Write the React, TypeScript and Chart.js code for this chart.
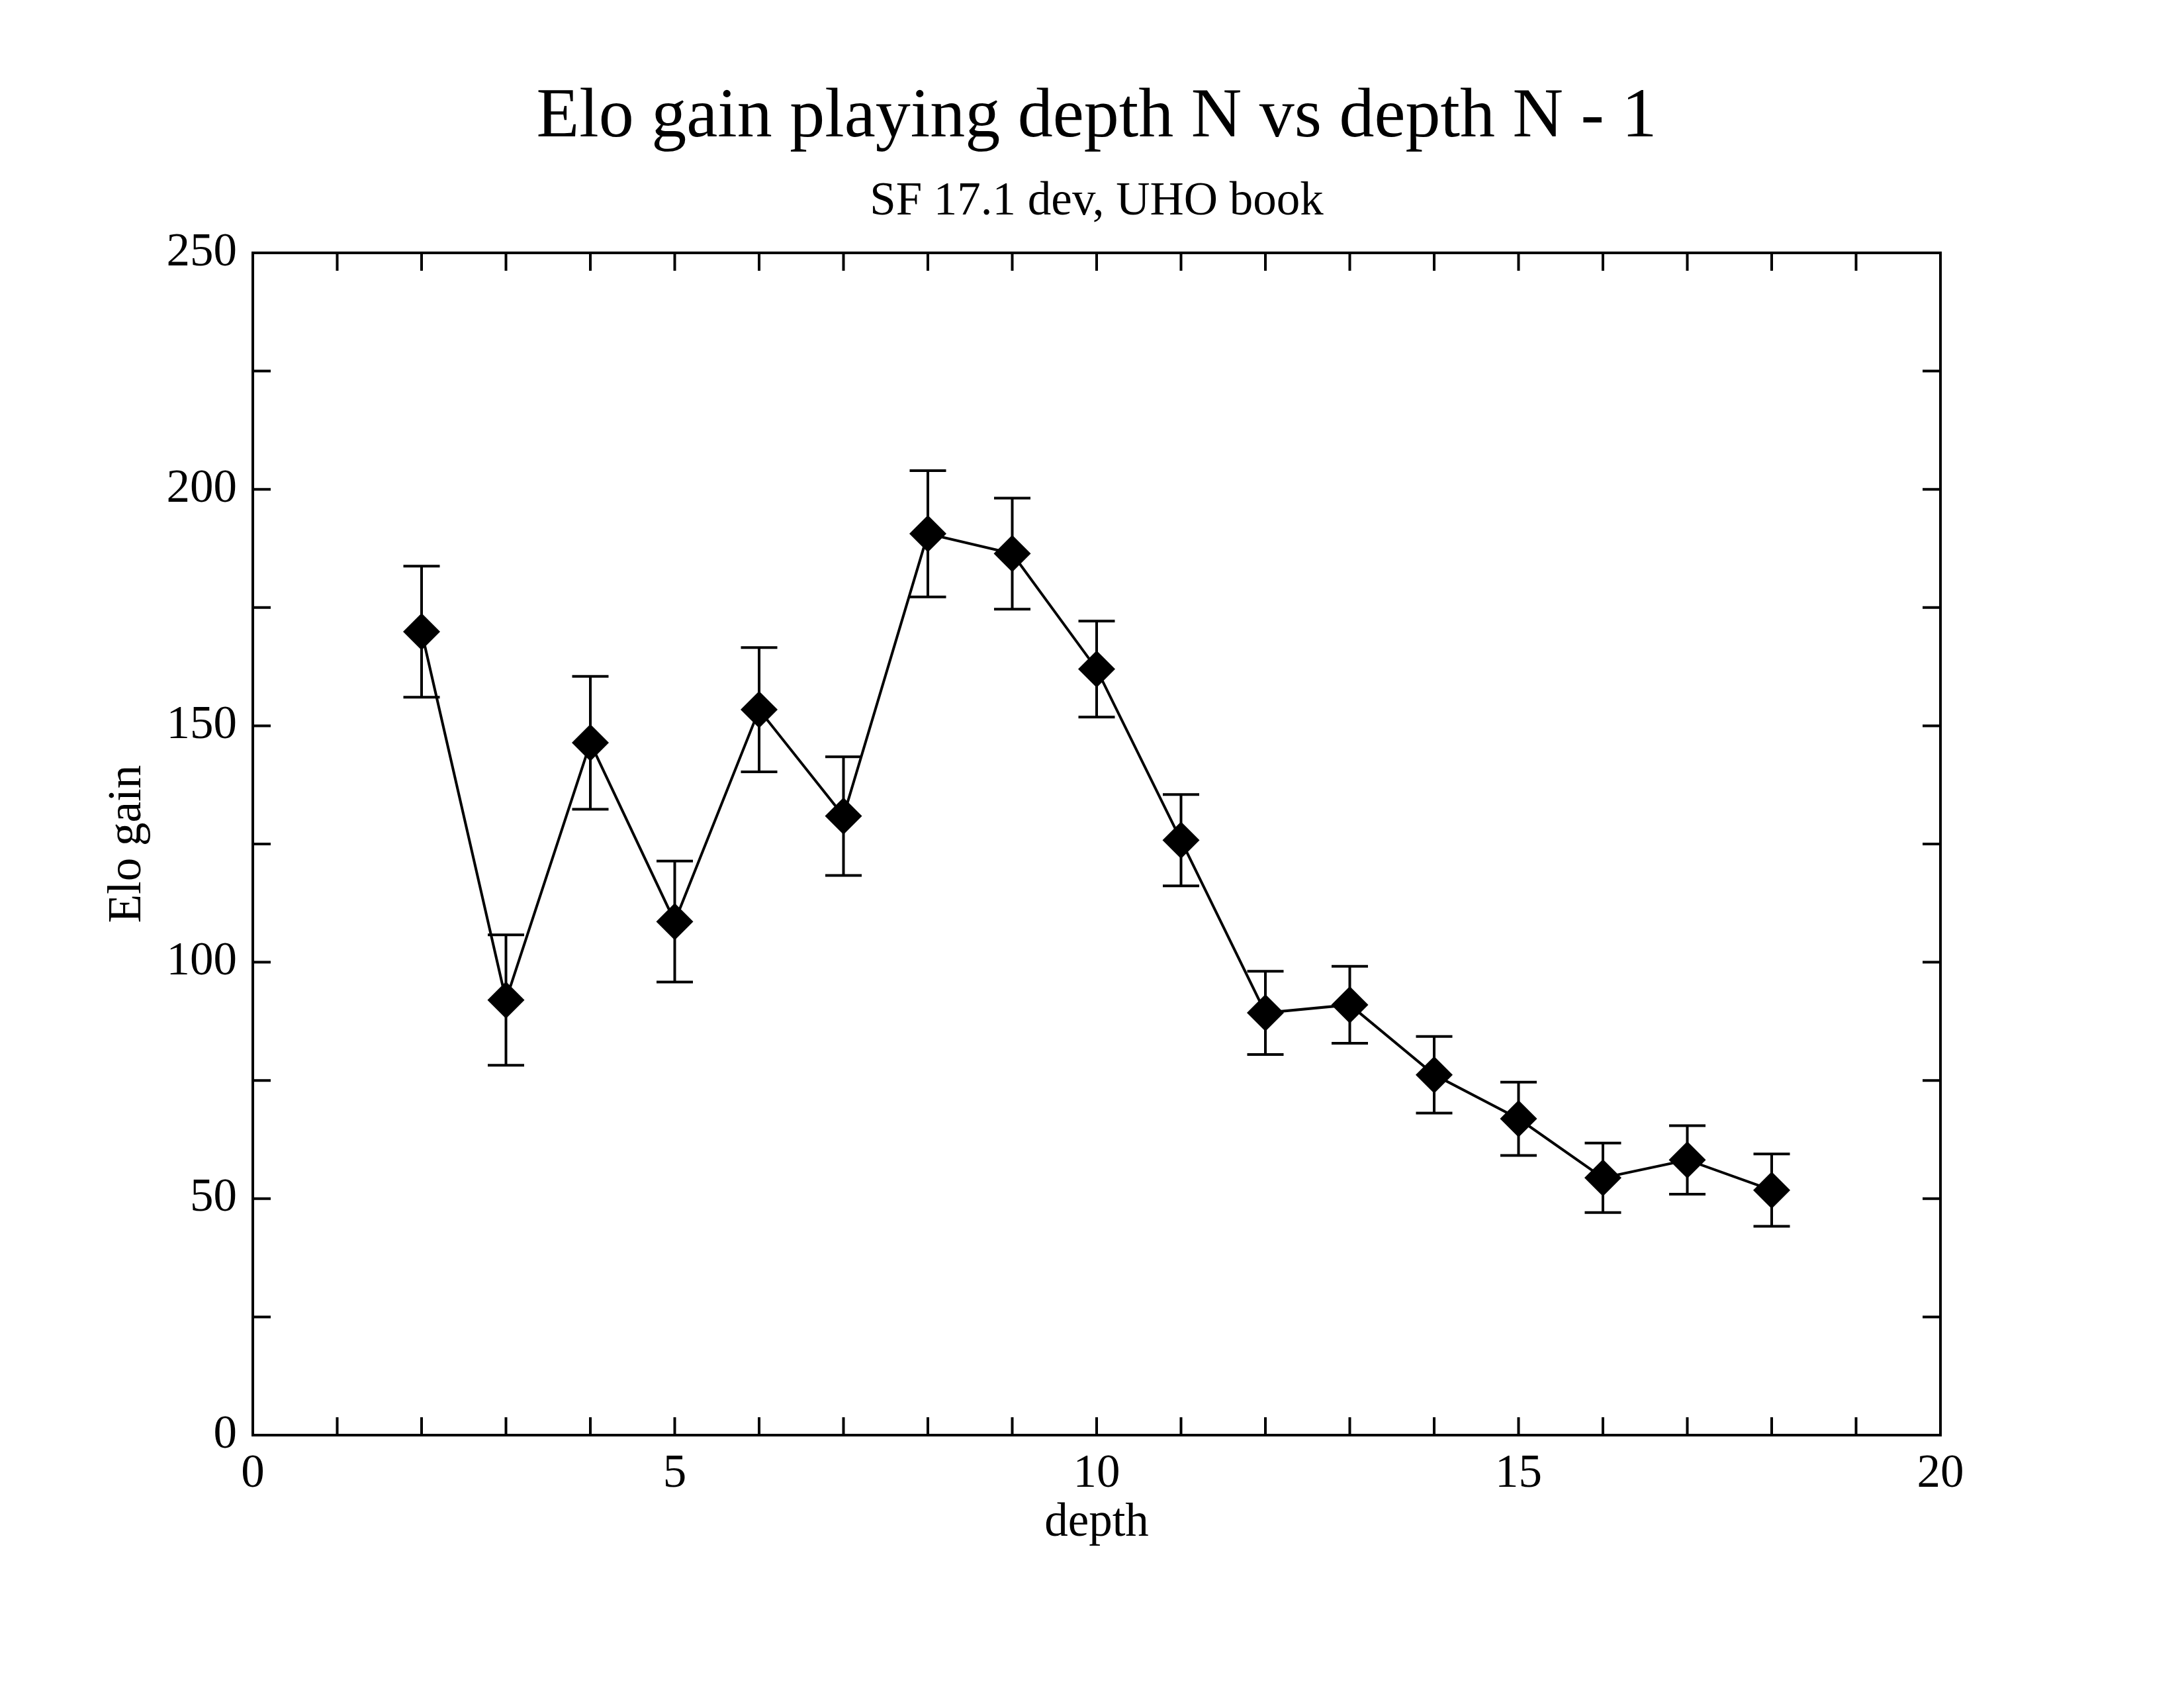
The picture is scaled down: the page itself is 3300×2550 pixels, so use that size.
import React, { useEffect, useRef } from "react";
import { Chart, registerables } from "chart.js";

Chart.register(...registerables);

// ---- Data ----
const depths = [2, 3, 4, 5, 6, 7, 8, 9, 10, 11, 12, 13, 14, 15, 16, 17, 18];
const eloGain = [169.9, 92.0, 146.4, 108.6, 153.4, 130.9, 190.6, 186.4, 162.0, 125.8, 89.3, 91.0, 76.2, 66.9, 54.4, 58.2, 51.8];
const eloError = [13.85, 13.8, 14.05, 12.8, 13.15, 12.55, 13.35, 11.75, 10.15, 9.65, 8.8, 8.15, 8.1, 7.75, 7.35, 7.25, 7.65];

// ---- Axes ----
const xMajorTicks = [0, 5, 10, 15, 20];
const xMinorTicks = [1, 2, 3, 4, 6, 7, 8, 9, 11, 12, 13, 14, 16, 17, 18, 19];
const yMajorTicks = [0, 50, 100, 150, 200, 250];
const yMinorTicks = [25, 75, 125, 175, 225];

const titleText = "Elo gain playing depth N vs depth N - 1";
const subtitleText = "SF 17.1 dev, UHO book";
const xTitle = "depth";
const yTitle = "Elo gain";

const FONT = "'Liberation Serif', 'Times New Roman', serif";
const W = 3300;
const H = 2550;

const decorPlugin = {
  id: "decor",
  beforeDatasetsDraw(chart: any) {
    const { ctx, scales } = chart;
    const xs = scales.x;
    const ys = scales.y;
    ctx.save();
    ctx.strokeStyle = "#000";
    ctx.lineWidth = 4;
    ctx.lineCap = "butt";
    const cap = 27.5;
    depths.forEach((d, i) => {
      const px = xs.getPixelForValue(d);
      const top = ys.getPixelForValue(eloGain[i] + eloError[i]);
      const bot = ys.getPixelForValue(eloGain[i] - eloError[i]);
      ctx.beginPath();
      ctx.moveTo(px, top);
      ctx.lineTo(px, bot);
      ctx.moveTo(px - cap, top);
      ctx.lineTo(px + cap, top);
      ctx.moveTo(px - cap, bot);
      ctx.lineTo(px + cap, bot);
      ctx.stroke();
    });
    ctx.restore();
  },
  afterDraw(chart: any) {
    const { ctx, chartArea: a, scales } = chart;
    const xs = scales.x;
    const ys = scales.y;
    ctx.save();
    ctx.strokeStyle = "#000";
    ctx.lineWidth = 4;
    ctx.lineCap = "butt";
    // frame
    ctx.strokeRect(a.left, a.top, a.right - a.left, a.bottom - a.top);
    // ticks (inward, all four sides)
    const tl = 27;
    ctx.beginPath();
    [...xMajorTicks, ...xMinorTicks].forEach((v) => {
      const px = xs.getPixelForValue(v);
      ctx.moveTo(px, a.bottom);
      ctx.lineTo(px, a.bottom - tl);
      ctx.moveTo(px, a.top);
      ctx.lineTo(px, a.top + tl);
    });
    [...yMajorTicks, ...yMinorTicks].forEach((v) => {
      const py = ys.getPixelForValue(v);
      ctx.moveTo(a.left, py);
      ctx.lineTo(a.left + tl, py);
      ctx.moveTo(a.right, py);
      ctx.lineTo(a.right - tl, py);
    });
    ctx.stroke();

    // texts
    ctx.fillStyle = "#000";
    const cx = (a.left + a.right) / 2;
    const cy = (a.top + a.bottom) / 2;
    ctx.textAlign = "center";
    ctx.textBaseline = "alphabetic";
    ctx.font = `106px ${FONT}`;
    ctx.fillText(titleText, cx, 206);
    ctx.font = `71px ${FONT}`;
    ctx.fillText(subtitleText, cx, 324);
    ctx.fillText(xTitle, cx, 2320);
    ctx.translate(212, cy);
    ctx.rotate(-Math.PI / 2);
    ctx.fillText(yTitle, 0, 0);
    ctx.restore();
  },
};

export default function App() {
  const canvasRef = useRef<HTMLCanvasElement | null>(null);

  useEffect(() => {
    const canvas = canvasRef.current;
    if (!canvas) return;
    const chart = new Chart(canvas, {
      type: "line",
      data: {
        datasets: [
          {
            data: depths.map((d, i) => ({ x: d, y: eloGain[i] })),
            borderColor: "#000",
            borderWidth: 4,
            backgroundColor: "#000",
            pointStyle: "rectRot",
            pointRadius: 28,
            pointBorderWidth: 0,
            pointBackgroundColor: "#000",
            pointBorderColor: "#000",
            tension: 0,
            fill: false,
          },
        ],
      },
      options: {
        responsive: false,
        animation: false,
        devicePixelRatio: 1,
        layout: { padding: { left: 0, right: 368, top: 382, bottom: 0 } },
        plugins: {
          legend: { display: false },
          title: { display: false },
          tooltip: { enabled: false },
        },
        scales: {
          x: {
            type: "linear",
            position: "bottom",
            min: 0,
            max: 20,
            grid: { display: false, drawTicks: false },
            border: { display: false },
            afterBuildTicks: (scale: any) => {
              scale.ticks = xMajorTicks.map((v) => ({ value: v }));
            },
            afterFit: (scale: any) => {
              scale.height = 382;
            },
            ticks: {
              color: "#000",
              font: { family: FONT, size: 71 },
              padding: 17,
              maxRotation: 0,
              autoSkip: false,
              callback: (v: any) => String(v),
            },
          },
          y: {
            type: "linear",
            position: "left",
            min: 0,
            max: 250,
            grid: { display: false, drawTicks: false },
            border: { display: false },
            afterBuildTicks: (scale: any) => {
              scale.ticks = yMajorTicks.map((v) => ({ value: v }));
            },
            afterFit: (scale: any) => {
              scale.width = 382;
            },
            ticks: {
              color: "#000",
              font: { family: FONT, size: 71 },
              padding: 24,
              autoSkip: false,
              callback: (v: any) => String(v),
            },
          },
        },
      },
      plugins: [decorPlugin],
    });
    return () => chart.destroy();
  }, []);

  return (
    <div style={{ position: "absolute", left: 0, top: 0, width: W, height: H, background: "#fff" }}>
      <canvas ref={canvasRef} width={W} height={H} style={{ width: W, height: H, display: "block" }} />
    </div>
  );
}
